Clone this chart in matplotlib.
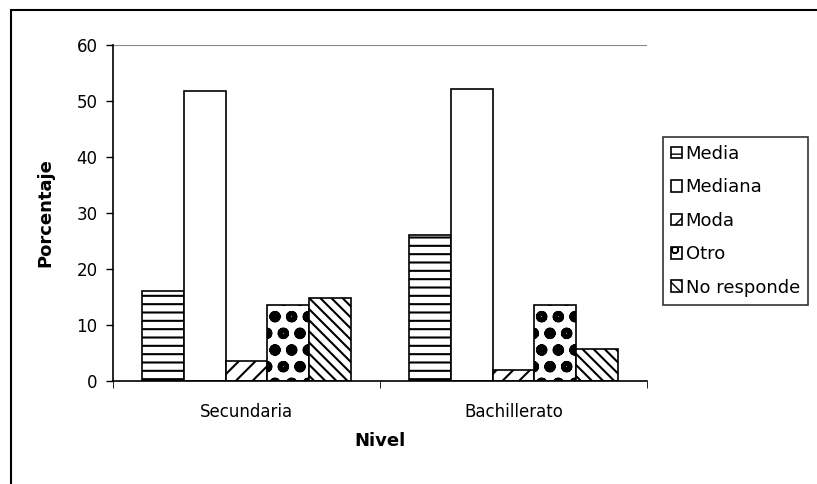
import numpy as np
import matplotlib
matplotlib.use('Agg')
from matplotlib import pyplot as plt
from matplotlib.patches import Rectangle

plt.rcParams['font.family'] = ['DejaVu Sans']
plt.rcParams['hatch.linewidth'] = 1.5

# Data
niveles = ['Secundaria', 'Bachillerato']
series = ['Media', 'Mediana', 'Moda', 'Otro', 'No responde']
media = [16.0, 26.1]
mediana = [51.8, 52.1]
moda = [3.6, 2.0]
otro = [13.6, 13.6]
no_responde = [14.8, 5.7]
valores = [media, mediana, moda, otro, no_responde]

hatches = ['--', '', '//', 'o', '\\\\\\']

fig = plt.figure(figsize=(8.17, 4.84), dpi=100)
ax = fig.add_axes([113/817, 1-381/484, (647-113)/817, (381-45)/484])

# outer chart frame (open on right and bottom)
fig.patches.append(Rectangle((11/817, -0.1), 1.2, 1-10/484+0.1, transform=fig.transFigure,
                             fill=False, edgecolor='black', linewidth=1.5))

x = np.arange(len(niveles))
w = 0.156
for i, (nombre, vals) in enumerate(zip(series, valores)):
    bars = ax.bar(x + (i - 2) * w, vals, w, label=nombre, facecolor='white',
                  edgecolor='black', hatch=hatches[i], linewidth=1.2)
    if nombre == 'Otro':
        for b in bars:
            b.set_hatch_linewidth(3.5)

ax.set_xlim(-0.5, 1.5)
ax.set_ylim(0, 60)
ax.set_yticks(range(0, 61, 10))
ax.set_xticks(x)
ax.set_xticklabels(niveles, fontsize=12)
ax.set_xticks([-0.5, 0.5, 1.5], minor=True)
ax.tick_params(axis='x', which='major', length=0, pad=16)
ax.tick_params(axis='x', which='minor', length=5, direction='out')
ax.tick_params(axis='y', length=5, direction='out', labelsize=12, width=1, pad=6)
ax.axhline(60, color='#888888', linewidth=1.5)

for s in ['top', 'right']:
    ax.spines[s].set_visible(False)
for s in ['left', 'bottom']:
    ax.spines[s].set_linewidth(1.2)

ax.set_ylabel('Porcentaje', fontsize=13, fontweight='bold', labelpad=16)
ax.set_xlabel('Nivel', fontsize=13, fontweight='bold', labelpad=8)

leg = ax.legend(loc='upper left', bbox_to_anchor=(663/817, 1-137/484), bbox_transform=fig.transFigure,
                frameon=True, fancybox=False, edgecolor='black', fontsize=13,
                handlelength=0.6, handleheight=0.6, handletextpad=0.2, labelspacing=0.85,
                borderpad=0.45, borderaxespad=0)
leg.get_frame().set_linewidth(1.2)
for h in leg.legend_handles:
    h.set_hatch_linewidth(1.0)

fig.savefig('out.png', dpi=100)
